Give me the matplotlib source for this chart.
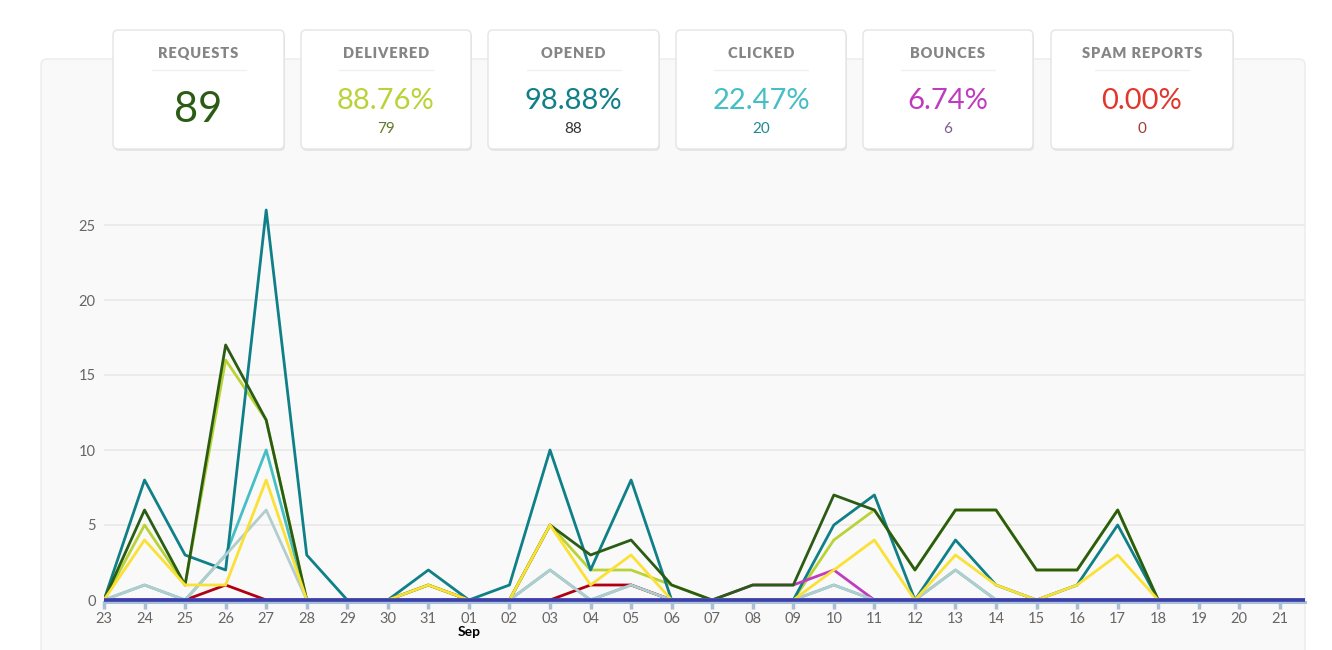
import matplotlib
matplotlib.use('Agg')
import matplotlib.pyplot as plt
from matplotlib.patches import FancyBboxPatch
from matplotlib.transforms import Bbox, TransformedBbox

plt.rcParams['font.family'] = ['Lato', 'DejaVu Sans']

# day labels, 23 Aug .. 22 Sep (22 sits just past the right edge)
days = ['23', '24', '25', '26', '27', '28', '29', '30', '31', '01',
        '02', '03', '04', '05', '06', '07', '08', '09', '10', '11',
        '12', '13', '14', '15', '16', '17', '18', '19', '20', '21', '22']

requests      = [0, 6, 1, 17, 12, 0, 0, 0, 1, 0, 0, 5, 3, 4, 1, 0, 1, 1, 7, 6, 2, 6, 6, 2, 2, 6, 0, 0, 0, 0, 0]
delivered     = [0, 5, 1, 16, 12, 0, 0, 0, 1, 0, 0, 5, 2, 2, 1, 0, 0, 0, 4, 6, 2, 6, 6, 2, 2, 6, 0, 0, 0, 0, 0]
opened        = [0, 8, 3, 2, 26, 3, 0, 0, 2, 0, 1, 10, 2, 8, 0, 0, 0, 0, 5, 7, 0, 4, 1, 0, 1, 5, 0, 0, 0, 0, 0]
clicked       = [0, 1, 0, 3, 10, 0, 0, 0, 0, 0, 0, 2, 0, 1, 0, 0, 0, 0, 1, 0, 0, 2, 0, 0, 0, 0, 0, 0, 0, 0, 0]
unique_clicks = [0, 1, 0, 3, 6, 0, 0, 0, 0, 0, 0, 2, 0, 1, 0, 0, 0, 0, 1, 0, 0, 2, 0, 0, 0, 0, 0, 0, 0, 0, 0]
unique_opens  = [0, 4, 1, 1, 8, 0, 0, 0, 1, 0, 0, 5, 1, 3, 0, 0, 0, 0, 2, 4, 0, 3, 1, 0, 1, 3, 0, 0, 0, 0, 0]
dropped       = [0, 0, 0, 1, 0, 0, 0, 0, 0, 0, 0, 0, 1, 1, 0, 0, 0, 0, 0, 0, 0, 0, 0, 0, 0, 0, 0, 0, 0, 0, 0]
bounces       = [0, 0, 0, 0, 0, 0, 0, 0, 0, 0, 0, 0, 0, 0, 0, 0, 1, 1, 2, 0, 0, 0, 0, 0, 0, 0, 0, 0, 0, 0, 0]
spam          = [0] * 31

card_titles = ['REQUESTS', 'DELIVERED', 'OPENED', 'CLICKED', 'BOUNCES', 'SPAM REPORTS']
card_values = ['89', '88.76%', '98.88%', '22.47%', '6.74%', '0.00%']
card_subs = [None, '79', '88', '20', '6', '0']
card_colors = ['#2b5c14', '#b9d336', '#0f7f88', '#45bec6', '#c03cbf', '#e2362b']
sub_colors = [None, '#5f7a2a', '#333333', '#1f8a90', '#7a5a8a', '#9e3a34']

W, H = 1332, 650
fig = plt.figure(figsize=(W / 100, H / 100), dpi=100)
fig.patch.set_facecolor('white')

# background layer in pixel coords
bg = fig.add_axes([0, 0, 1, 1])
bg.set_xlim(0, W)
bg.set_ylim(H, 0)
bg.axis('off')
bg.add_patch(FancyBboxPatch((41, 59), 1264, 600, boxstyle='round,pad=0,rounding_size=6',
                            fc='#f9f9f9', ec='#ececec', lw=1))

# chart
ax = fig.add_axes([104 / W, 50 / H, 1201 / W, 450 / H])
ax.set_facecolor('none')
x = list(range(len(days)))
lw = 2.0
XMAX = 29.62
ax.plot(x, clicked, color='#45bec6', lw=lw)
ax.plot(x, delivered, color='#b9d336', lw=lw)
ax.plot(x, opened, color='#0f7f88', lw=lw)
ax.plot(x, dropped, color='#b00012', lw=lw)
ax.plot(x, bounces, color='#c03cbf', lw=lw)
ax.plot(x, requests, color='#2b5c14', lw=lw)
ax.plot(x, unique_clicks, color='#b3cccc', lw=lw)
ax.plot(x, unique_opens, color='#fbe035', lw=lw)
base, = ax.plot(x, spam, color='#3a3fae', lw=2.6, zorder=5)
# let the zero line show in full thickness while still stopping at the right edge
base.set_clip_box(TransformedBbox(Bbox([[0, -2], [XMAX, 30]]), ax.transData))

ax.set_yticks([0, 5, 10, 15, 20, 25])
ax.set_xticks(x)
ax.set_xticklabels(days)
ax.set_xlim(0, XMAX)
ax.set_ylim(0, 30)
ax.grid(axis='y', color='#e9e9e9', lw=1.2)
ax.set_axisbelow(True)
for s in ['top', 'right', 'left']:
    ax.spines[s].set_visible(False)
ax.spines['bottom'].set_color('#a9bfd6')
ax.spines['bottom'].set_linewidth(2.2)
ax.spines['bottom'].set_position(('outward', 1.5))
ax.tick_params(axis='y', length=0, pad=6, labelsize=10.5, labelcolor='#666666')
ax.tick_params(axis='x', length=5, width=2.5, color='#a9bfd6', pad=2, labelsize=10.5, labelcolor='#666666')
ax.text(9, -2.1, 'Sep', ha='center', va='center', fontsize=10, fontweight='bold', color='black')

# stat cards
lefts = [113, 301, 488, 676, 863, 1051]
widths = [171, 170, 171, 170, 170, 182]
for i in range(6):
    l, w = lefts[i], widths[i]
    bg.add_patch(FancyBboxPatch((l + 1, 32), w, 119, boxstyle='round,pad=0,rounding_size=5',
                                fc='#e6e6e6', ec='none', zorder=2))
    bg.add_patch(FancyBboxPatch((l, 30), w, 119, boxstyle='round,pad=0,rounding_size=5',
                                fc='white', ec='#e4e4e4', lw=1, zorder=3))
    cx = l + w / 2
    bg.text(cx, 53, '\u200a'.join(card_titles[i]), ha='center', va='center', fontsize=10.5,
            fontweight='heavy', color='#858585', zorder=4)
    bg.plot([cx - 47, cx + 47], [70, 70], color='#f0f0f0', lw=1, zorder=4)
    if card_subs[i] is None:
        bg.text(cx, 110, card_values[i], ha='center', va='center', fontsize=30,
                fontweight='normal', color=card_colors[i], zorder=4)
    else:
        bg.text(cx, 101, card_values[i], ha='center', va='center', fontsize=21,
                fontweight='normal', color=card_colors[i], zorder=4)
        bg.text(cx, 129, card_subs[i], ha='center', va='center', fontsize=11,
                fontweight='normal', color=sub_colors[i], zorder=4)

fig.savefig('out.png', dpi=100)
